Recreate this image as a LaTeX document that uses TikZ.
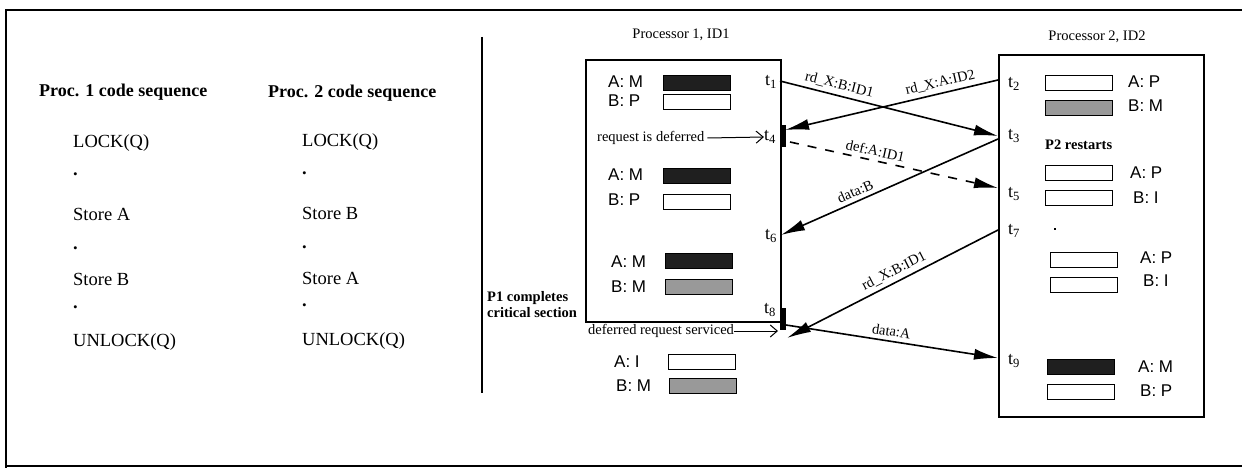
\documentclass[tikz,border=0pt]{standalone}
\usepackage{fontspec}
\setmainfont{Liberation Serif}
\newfontfamily\hv{Liberation Sans}
\usetikzlibrary{arrows.meta}
\begin{document}
\begin{tikzpicture}[x=1pt,y=-1pt,
 frame/.style={line width=2pt},
 proc/.style={draw,line width=1.8pt,inner sep=0,anchor=north west},
 code/.style={anchor=west,font=\fontsize{18.5}{20}\selectfont,inner sep=0},
 head/.style={anchor=west,font=\fontsize{18}{20}\selectfont\bfseries,inner sep=0},
 title/.style={font=\fontsize{14.5}{16}\selectfont,inner sep=0},
 st/.style={anchor=west,font=\hv\fontsize{17}{19}\selectfont,inner sep=0},
 tm/.style={font=\fontsize{18}{20}\selectfont,inner sep=0},
 small/.style={font=\fontsize{14.5}{16}\selectfont,inner sep=0},
 cell/.style={draw,line width=1pt,inner sep=0,anchor=north west,minimum width=67pt,minimum height=15pt},
 dark/.style={cell,fill=black!88},
 grey/.style={cell,fill=black!40},
 bar/.style={fill=black,inner sep=0,minimum width=6pt},
 msg/.style={line width=1.6pt,-{Latex[length=24pt,width=11pt]}},
 msgr/.style={line width=1.6pt,{Latex[length=24pt,width=11pt]}-},
 lbl/.style={font=\fontsize{14.5}{16}\selectfont,sloped,above,inner sep=4pt},
 ptr/.style={line width=1pt,-{Straight Barb[length=7pt,width=12pt]}},
 ]
\useasboundingbox (0,0) rectangle (1242,468);
% outer frame
\draw[frame] (1242,10) -- (6,10) -- (6,468);
\draw[frame] (6,466) -- (1242,466);
% divider
\draw[line width=1.5pt] (482,37) -- (482,393);

% code sequences
\node[head] (h1) at (39,92) {Proc. 1 code sequence};
\node[head] (h2) at (268,93) {Proc. 2 code sequence};
\node[code] (a1) at (73,143) {LOCK(Q)};
\node[code] (a2) at (73,174) {\textbf{.}};
\node[code] (a3) at (73,214) {Store A};
\node[code] (a4) at (73,248) {\textbf{.}};
\node[code] (a5) at (73,279) {Store B};
\node[code] (a6) at (73,307) {\textbf{.}};
\node[code] (a7) at (73,342) {UNLOCK(Q)};
\node[code] (b1) at (302,142) {LOCK(Q)};
\node[code] (b2) at (302,173) {\textbf{.}};
\node[code] (b3) at (302,213) {Store B};
\node[code] (b4) at (302,247) {\textbf{.}};
\node[code] (b5) at (302,278) {Store A};
\node[code] (b6) at (302,305) {\textbf{.}};
\node[code] (b7) at (302,341) {UNLOCK(Q)};

% processor boxes
\node[proc,minimum width=195pt,minimum height=262pt] (P1) at (585,59) {};
\node[proc,minimum width=205pt,minimum height=362pt] (P2) at (998,54) {};
\node[title] (T1) at (681,35) {Processor 1, ID1};
\node[title] (T2) at (1097,37) {Processor 2, ID2};

% P1 states
\node[st] (p1a1) at (608,82) {A: M};  \node[dark] (p1c1) at (663,75) {};
\node[st] (p1b1) at (608,101) {B: P}; \node[cell] (p1c2) at (663,94) {};
\node[st] (p1a2) at (608,175) {A: M}; \node[dark] (p1c3) at (663,168) {};
\node[st] (p1b2) at (608,200) {B: P}; \node[cell] (p1c4) at (663,194) {};
\node[st] (p1a3) at (611,262) {A: M}; \node[dark] (p1c5) at (665,253) {};
\node[st] (p1b3) at (611,287) {B: M}; \node[grey] (p1c6) at (665,279) {};
\node[st] (p1a4) at (614,362) {A: I};  \node[cell] (p1c7) at (668,354) {};
\node[st] (p1b4) at (616,386) {B: M}; \node[grey] (p1c8) at (669,378) {};

% P1 times
\node[tm] (t1) at (771,82) {t\textsubscript{1}};
\node[tm] (t4) at (770,137) {t\textsubscript{4}};
\node[tm] (t6) at (771,236) {t\textsubscript{6}};
\node[tm] (t8) at (770,310) {t\textsubscript{8}};
\node[bar,minimum height=22pt] (bar4) at (782.5,136) {};
\node[bar,minimum height=22pt] (bar8) at (782.5,319) {};

% P1 notes
\node[small,anchor=west] (rq) at (597,138) {request is deferred};
\draw[ptr] (rq.east) ++(3,0) coordinate (rqs) (rqs) -- (t4.west);
\node[small,anchor=west] (ds) at (588,331) {deferred request serviced};
\coordinate (dse) at (778,331);
\draw[ptr] (ds.east) -- (dse);
\node[small,font=\fontsize{14.5}{16}\selectfont\bfseries,anchor=west,align=left] (cc) at (487,305) {P1 completes\\critical section};

% P2 states
\node[cell] (p2c1) at (1045,75) {};  \node[st] (p2a1) at (1128,82) {A: P};
\node[grey] (p2c2) at (1045,100) {}; \node[st] (p2b1) at (1128,106) {B: M};
\node[small,font=\fontsize{14.5}{16}\selectfont\bfseries,anchor=west] (rs) at (1045,145) {P2 restarts};
\node[cell] (p2c3) at (1045,165) {}; \node[st] (p2a2) at (1130,173) {A: P};
\node[cell] (p2c4) at (1045,190) {}; \node[st] (p2b2) at (1133,198) {B: I};
\node[fill=black,inner sep=0,minimum size=2pt] (dot) at (1055,229) {};
\node[cell] (p2c5) at (1050,252) {}; \node[st] (p2a3) at (1140,258) {A: P};
\node[cell] (p2c6) at (1050,277) {}; \node[st] (p2b3) at (1143,281) {B: I};
\node[dark] (p2c7) at (1047,359) {}; \node[st] (p2a4) at (1138,367) {A: M};
\node[cell] (p2c8) at (1047,384) {}; \node[st] (p2b4) at (1140,391) {B: P};

% P2 times
\node[tm] (t2) at (1014,84) {t\textsubscript{2}};
\node[tm] (t3) at (1014,136) {t\textsubscript{3}};
\node[tm] (t5) at (1014,194) {t\textsubscript{5}};
\node[tm] (t7) at (1014,231) {t\textsubscript{7}};
\node[tm] (t9) at (1014,361) {t\textsubscript{9}};

% message end points
\coordinate (s1) at (780,81);
\coordinate (e1) at (998,136);
\coordinate (s2) at (998,80);
\coordinate (e2) at (785,130);
\coordinate (s3) at (790,142);
\coordinate (e3) at (998,188);
\coordinate (s4) at (998,139);
\coordinate (e4) at (781,235);
\coordinate (s5) at (998,230);
\coordinate (e5) at (787,338);
\coordinate (s6) at (786,325);
\coordinate (e6) at (998,358);

\draw[msg] (s1) -- node[lbl,pos=0.26] {rd\_X:B:ID1} (e1);
\draw[msgr] (e2) -- node[lbl,pos=0.74] {rd\_X:A:ID2} (s2);
\draw[msg,dashed,dash pattern=on 9pt off 9pt] (s3) -- node[lbl,pos=0.4] {def:A:ID1} (e3);
\draw[msgr] (e4) -- node[lbl,pos=0.36] {data:B} (s4);
\draw[msgr] (e5) -- node[lbl,pos=0.53] {rd\_X:B:ID1} (s5);
\draw[msg] (s6) -- node[lbl,pos=0.49] {data:A} (e6);
\end{tikzpicture}
\end{document}
